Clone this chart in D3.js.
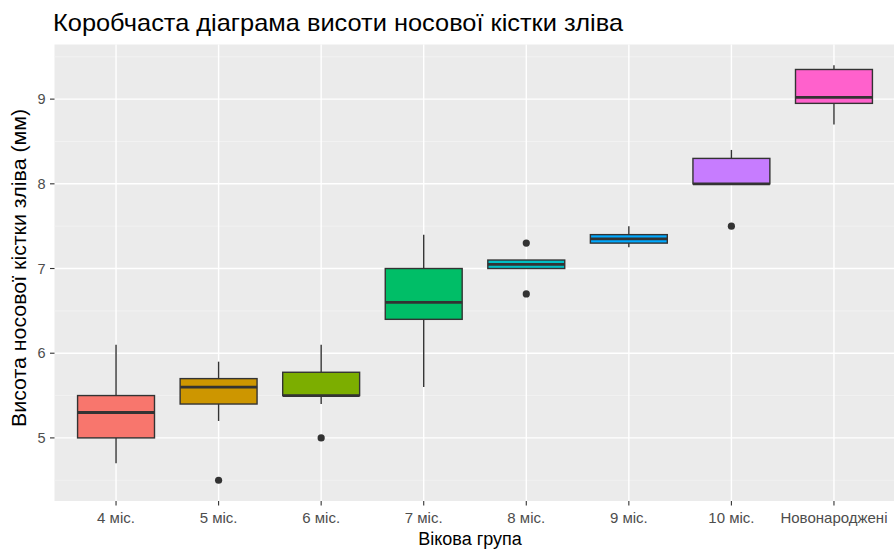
<!DOCTYPE html>
<html>
<head>
<meta charset="utf-8">
<script src="https://cdn.jsdelivr.net/npm/d3@7"></script>
<style>
  html, body { margin: 0; padding: 0; background: #ffffff; }
  svg { display: block; font-family: "Liberation Sans", Arial, sans-serif; }
</style>
</head>
<body>
<svg id="chart" width="894" height="552"></svg>
<script>
// Age groups and the five-number summaries of nasal bone height (mm)
const groups = ["4 міс.", "5 міс.", "6 міс.", "7 міс.", "8 міс.", "9 міс.", "10 міс.", "Новонароджені"];
const whiskerLow  = [4.7, 5.2, 5.4, 5.6, 7.0, 7.25, 8.0, 8.7];
const q1          = [5.0, 5.4, 5.5, 6.4, 7.0, 7.3, 8.0, 8.95];
const median      = [5.3, 5.6, 5.5, 6.6, 7.05, 7.35, 8.0, 9.02];
const q3          = [5.5, 5.7, 5.775, 7.0, 7.1, 7.4, 8.3, 9.35];
const whiskerHigh = [6.1, 5.9, 6.1, 7.4, 7.1, 7.5, 8.4, 9.4];
const outliers    = [[], [4.5], [5.0], [], [7.3, 6.7], [], [7.5], []];
const fills = ["#F8766D", "#CD9600", "#7CAE00", "#00BE67", "#00BFC4", "#00A9FF", "#C77CFF", "#FF61CC"];
const yTicks = [5, 6, 7, 8, 9];
const yMinor = [4.5, 5.5, 6.5, 7.5, 8.5, 9.5];

const svg = d3.select("#chart");
const panel = { left: 54.5, right: 895.5, top: 44.5, bottom: 501 };

// Discrete x positions with ggplot-style 0.6 expansion on each side
const x = d3.scalePoint()
  .domain(groups)
  .range([panel.left, panel.right])
  .padding(0.6);
const step = x.step();
const boxW = step * 0.75;

const y = d3.scaleLinear()
  .domain([4.255, 9.645])
  .range([panel.bottom, panel.top]);

const g = svg.append("g");

// Panel background
g.append("rect")
  .attr("x", panel.left).attr("y", panel.top)
  .attr("width", panel.right - panel.left)
  .attr("height", panel.bottom - panel.top)
  .attr("fill", "#EBEBEB");

// Grid lines
g.selectAll(".yminor").data(yMinor.filter(v => y(v) > panel.top && y(v) < panel.bottom)).enter()
  .append("line")
  .attr("x1", panel.left).attr("x2", panel.right)
  .attr("y1", d => y(d)).attr("y2", d => y(d))
  .attr("stroke", "#F5F5F5").attr("stroke-width", 0.7);
g.selectAll(".ymajor").data(yTicks).enter()
  .append("line")
  .attr("x1", panel.left).attr("x2", panel.right)
  .attr("y1", d => y(d)).attr("y2", d => y(d))
  .attr("stroke", "#FFFFFF").attr("stroke-width", 1.4);
g.selectAll(".xmajor").data(groups).enter()
  .append("line")
  .attr("x1", d => x(d)).attr("x2", d => x(d))
  .attr("y1", panel.top).attr("y2", panel.bottom)
  .attr("stroke", "#FFFFFF").attr("stroke-width", 1.4);

const ink = "#333333";

// Boxes
const boxes = g.selectAll(".box").data(groups).enter().append("g");

boxes.append("line")
  .attr("x1", d => x(d)).attr("x2", d => x(d))
  .attr("y1", (d, i) => y(q3[i])).attr("y2", (d, i) => y(whiskerHigh[i]))
  .attr("stroke", ink).attr("stroke-width", 1.4);
boxes.append("line")
  .attr("x1", d => x(d)).attr("x2", d => x(d))
  .attr("y1", (d, i) => y(q1[i])).attr("y2", (d, i) => y(whiskerLow[i]))
  .attr("stroke", ink).attr("stroke-width", 1.4);

boxes.append("rect")
  .attr("x", d => x(d) - boxW / 2)
  .attr("width", boxW)
  .attr("y", (d, i) => y(q3[i]))
  .attr("height", (d, i) => y(q1[i]) - y(q3[i]))
  .attr("fill", (d, i) => fills[i])
  .attr("stroke", ink).attr("stroke-width", 1.4);

boxes.append("line")
  .attr("x1", d => x(d) - boxW / 2).attr("x2", d => x(d) + boxW / 2)
  .attr("y1", (d, i) => y(median[i])).attr("y2", (d, i) => y(median[i]))
  .attr("stroke", ink).attr("stroke-width", 2.8);

// Outlying points
groups.forEach((grp, i) => {
  g.selectAll(null).data(outliers[i]).enter()
    .append("circle")
    .attr("cx", x(grp)).attr("cy", d => y(d))
    .attr("r", 3.6).attr("fill", ink);
});

// Y axis
const yAxis = g.append("g");
yAxis.selectAll("line").data(yTicks).enter().append("line")
  .attr("x1", panel.left - 4.5).attr("x2", panel.left)
  .attr("y1", d => y(d)).attr("y2", d => y(d))
  .attr("stroke", ink).attr("stroke-width", 1.1);
yAxis.selectAll("text").data(yTicks).enter().append("text")
  .attr("x", panel.left - 9).attr("y", d => y(d))
  .attr("dy", "0.36em")
  .attr("text-anchor", "end")
  .attr("font-size", 14.5).attr("fill", "#4D4D4D")
  .text(d => d3.format("d")(d));

// X axis
const xAxis = g.append("g");
xAxis.selectAll("line").data(groups).enter().append("line")
  .attr("x1", d => x(d)).attr("x2", d => x(d))
  .attr("y1", panel.bottom).attr("y2", panel.bottom + 4.5)
  .attr("stroke", ink).attr("stroke-width", 1.1);
xAxis.selectAll("text").data(groups).enter().append("text")
  .attr("x", d => x(d)).attr("y", 523)
  .attr("text-anchor", "middle")
  .attr("font-size", 15).attr("fill", "#4D4D4D")
  .text(d => d);

// Axis titles
svg.append("text")
  .attr("x", 470).attr("y", 545)
  .attr("text-anchor", "middle")
  .attr("font-size", 18).attr("fill", "#000")
  .text("Вікова група");

svg.append("text")
  .attr("transform", "translate(26, 268) rotate(-90)")
  .attr("text-anchor", "middle")
  .attr("font-size", 20).attr("fill", "#000")
  .attr("textLength", 318).attr("lengthAdjust", "spacingAndGlyphs")
  .text("Висота носової кістки зліва (мм)");

// Title
svg.append("text")
  .attr("x", 53).attr("y", 31)
  .attr("font-size", 24).attr("fill", "#000")
  .attr("textLength", 570).attr("lengthAdjust", "spacingAndGlyphs")
  .text("Коробчаста діаграма висоти носової кістки зліва");
</script>
</body>
</html>
